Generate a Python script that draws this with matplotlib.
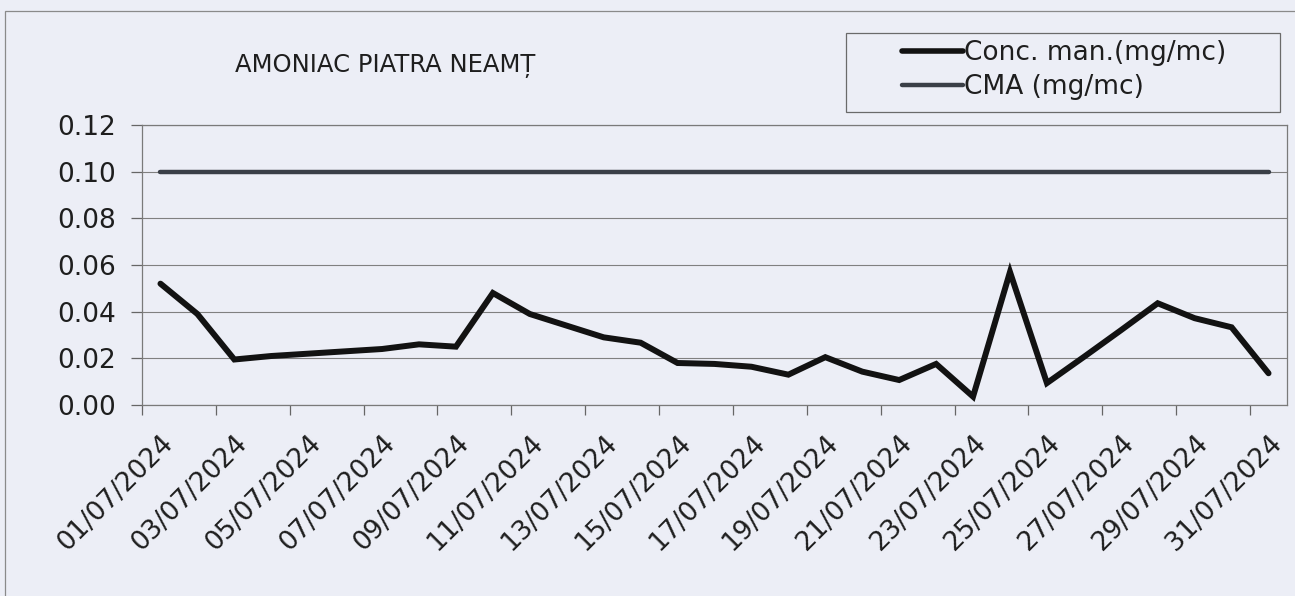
import matplotlib
matplotlib.use("Agg")
import matplotlib.pyplot as plt
from matplotlib.patches import Rectangle
from matplotlib.lines import Line2D

# ---- data ----
dates = [f"{d:02d}/07/2024" for d in range(1, 32)]
conc = [0.052, 0.039, 0.0195, 0.021, 0.022, 0.023, 0.024, 0.026, 0.025, 0.048,
        0.039, 0.034, 0.029, 0.0267, 0.018, 0.0176, 0.0164, 0.013, 0.0205, 0.0143,
        0.0107, 0.0176, 0.0036, 0.057, 0.0094, 0.0206, 0.032, 0.0436, 0.0372, 0.0333,
        0.0136]
cma = [0.10] * 31
title = "AMONIAC PIATRA NEAMȚ"
label_conc = "Conc. man.(mg/mc)"
label_cma = "CMA (mg/mc)"
yticks = [0.00, 0.02, 0.04, 0.06, 0.08, 0.10, 0.12]

W, H = 1295, 596
bg = "#eceef6"
plt.rcParams['font.family'] = ['DejaVu Sans']

fig = plt.figure(figsize=(W / 100, H / 100), dpi=100, facecolor=bg)
ax = fig.add_axes([142 / W, 1 - 405 / H, (1287 - 142) / W, (405 - 125) / H])
ax.set_facecolor(bg)

x = list(range(len(dates)))
ax.plot(x, cma, color="#3a3f47", lw=3.2, solid_capstyle='round', zorder=3)
ax.plot(x, conc, color="#121212", lw=4.3, solid_capstyle='round',
        solid_joinstyle='miter', zorder=4)

ax.set_xlim(-0.5, len(dates) - 0.5)
ax.set_ylim(0, 0.12)
ax.set_yticks(yticks)
ax.set_yticklabels([f"{v:.2f}" for v in yticks])
ax.grid(axis='y', color="#808080", lw=0.8)
ax.set_axisbelow(True)

# major ticks between categories (every 2), labels at category centres
ax.set_xticks([i - 0.5 for i in range(0, len(dates) + 1, 2)])
ax.set_xticklabels([])
ax.set_xticks(x[::2], minor=True)
ax.set_xticklabels(dates[::2], minor=True, rotation=45, ha='right',
                   va='top', rotation_mode='anchor', fontsize=19, color="#1e1e1e")
ax.tick_params(axis='x', which='minor', length=0, pad=18)
ax.tick_params(axis='x', which='major', length=7, width=0.9, color="#666")
ax.tick_params(axis='y', length=8, width=0.9, color="#666", pad=11,
               labelsize=19, labelcolor="#1e1e1e")

for s in ax.spines.values():
    s.set_color("#7a7a7a")
    s.set_linewidth(0.9)

# title
fig.text(385 / W, 1 - 66 / H, title, ha='center', va='center', fontsize=17.5,
         color="#1e1e1e")

# legend box
fig.patches.append(Rectangle((846 / W, 1 - 112 / H), (1280 - 846) / W, (112 - 33) / H,
                             transform=fig.transFigure, fill=False,
                             edgecolor="#6a6a6a", lw=0.9))
# outer chart border
fig.patches.append(Rectangle((5 / W, -0.1), 1.2, 1 - 11 / H + 0.1,
                             transform=fig.transFigure, fill=False,
                             edgecolor="#8a8a8a", lw=0.9))

handles = [Line2D([], [], color="#121212", lw=4.0, solid_capstyle='round'),
           Line2D([], [], color="#3a3f47", lw=3.2, solid_capstyle='round')]
fig.legend(handles, [label_conc, label_cma], loc='center left',
           bbox_to_anchor=(902 / W, 1 - 70 / H), frameon=False, fontsize=19,
           handlelength=2.3, handletextpad=0.05, borderpad=0, borderaxespad=0,
           labelspacing=0.32, labelcolor="#1e1e1e")

fig.savefig("out.png", dpi=100, facecolor=bg)
